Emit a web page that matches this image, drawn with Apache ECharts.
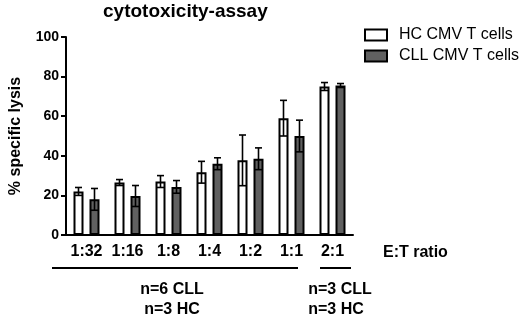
<!DOCTYPE html>
<html>
<head>
<meta charset="UTF-8">
<title>cytotoxicity-assay</title>
<script src="https://cdn.jsdelivr.net/npm/echarts@6/dist/echarts.min.js"></script>
<style>
  html, body { margin: 0; padding: 0; background: #fff; }
  #container { width: 520px; height: 316px; }
</style>
</head>
<body>
<div id="container"></div>
<script>
// data
var ratios = ['1:32', '1:16', '1:8', '1:4', '1:2', '1:1', '2:1'];
var hcMean = [22, 26.5, 27, 31.7, 37.7, 59, 75];
var hcErr = [2, 1.5, 3, 5.5, 12.8, 9, 2];
var cllMean = [18, 19.7, 24.3, 36, 38.5, 50, 75.5];
var cllErr = [5.5, 5.3, 3.2, 3, 5.5, 8, 1];
var yTicks = [0, 20, 40, 60, 80, 100];

var FONT = '"Liberation Sans", Arial, Helvetica, sans-serif';

function errData(mean, err) {
  var out = [];
  for (var i = 0; i < mean.length; i++) {
    out.push([i, mean[i] - err[i], mean[i] + err[i]]);
  }
  return out;
}

// draws a vertical error bar with caps, shifted off the category centre
function errRender(shift) {
  return function (params, api) {
    var lo = api.coord([api.value(0), api.value(1)]);
    var hi = api.coord([api.value(0), api.value(2)]);
    var x = lo[0] + shift;
    var cap = 3.5;
    var st = { stroke: '#000', lineWidth: 1.6 };
    return {
      type: 'group',
      children: [
        { type: 'line', shape: { x1: x, y1: lo[1], x2: x, y2: hi[1] }, style: st },
        { type: 'line', shape: { x1: x - cap, y1: hi[1], x2: x + cap, y2: hi[1] }, style: st },
        { type: 'line', shape: { x1: x - cap, y1: lo[1], x2: x + cap, y2: lo[1] }, style: st }
      ]
    };
  };
}

var myChart = echarts.init(document.getElementById('container'));

var option = {
  animation: false,
  backgroundColor: '#fff',
  textStyle: { fontFamily: FONT, color: '#000' },
  title: {
    text: 'cytotoxicity-assay',
    left: 103,
    top: 2,
    padding: 0,
    textStyle: { fontFamily: FONT, fontSize: 19, fontWeight: 'bold', color: '#000' }
  },
  legend: {
    data: ['HC CMV T cells', 'CLL CMV T cells'],
    orient: 'vertical',
    left: 359,
    top: 22,
    icon: 'rect',
    itemWidth: 22,
    itemHeight: 11,
    itemGap: 5,
    textStyle: { fontFamily: FONT, fontSize: 16, color: '#000', padding: [0, 0, 0, 7] }
  },
  grid: { left: 53, right: 167, top: 37, bottom: 81 },
  xAxis: {
    type: 'category',
    data: ratios,
    name: 'E:T ratio',
    nameLocation: 'end',
    nameGap: 30,
    nameTextStyle: {
      fontFamily: FONT, fontSize: 16, fontWeight: 'bold', color: '#000',
      verticalAlign: 'top', padding: [10, 0, 0, 0]
    },
    axisLine: { lineStyle: { color: '#000', width: 2 } },
    axisTick: { alignWithLabel: true, length: 5, lineStyle: { color: '#000', width: 2 } },
    axisLabel: { interval: 0, fontFamily: FONT, fontSize: 16, fontWeight: 'bold', color: '#000', margin: 9 }
  },
  yAxis: {
    type: 'value',
    min: 0,
    max: 100,
    interval: 20,
    name: '% specific lysis',
    nameLocation: 'middle',
    nameGap: 42,
    nameTextStyle: { fontFamily: FONT, fontSize: 16, fontWeight: 'bold', color: '#000' },
    splitLine: { show: false },
    axisLine: { show: true, lineStyle: { color: '#000', width: 2 } },
    axisTick: { show: true, length: 5, lineStyle: { color: '#000', width: 2 } },
    axisLabel: {
      fontFamily: FONT, fontSize: 14, fontWeight: 'bold', color: '#000', margin: 7,
      formatter: function (v) { return yTicks.indexOf(v) >= 0 ? String(v) : ''; }
    }
  },
  series: [
    {
      name: 'HC CMV T cells',
      type: 'bar',
      data: hcMean,
      barWidth: 10,
      barGap: '60%',
      itemStyle: { color: '#fff', borderColor: '#000', borderWidth: 2 }
    },
    {
      name: 'CLL CMV T cells',
      type: 'bar',
      data: cllMean,
      barWidth: 10,
      itemStyle: { color: '#606060', borderColor: '#000', borderWidth: 2 }
    },
    {
      name: 'hcErr',
      type: 'custom',
      renderItem: errRender(-8),
      data: errData(hcMean, hcErr),
      encode: { x: 0, y: [1, 2] },
      z: 5
    },
    {
      name: 'cllErr',
      type: 'custom',
      renderItem: errRender(8),
      data: errData(cllMean, cllErr),
      encode: { x: 0, y: [1, 2] },
      z: 5
    }
  ],
  graphic: [
    { type: 'line', shape: { x1: 52, y1: 268, x2: 298, y2: 268 }, style: { stroke: '#000', lineWidth: 2 } },
    { type: 'line', shape: { x1: 320, y1: 268, x2: 351, y2: 268 }, style: { stroke: '#000', lineWidth: 2 } },
    { type: 'text', x: 172, y: 290, style: { text: 'n=6 CLL', fill: '#000', font: 'bold 16px ' + FONT, textAlign: 'center', textVerticalAlign: 'middle' } },
    { type: 'text', x: 172, y: 310, style: { text: 'n=3 HC', fill: '#000', font: 'bold 16px ' + FONT, textAlign: 'center', textVerticalAlign: 'middle' } },
    { type: 'text', x: 340, y: 290, style: { text: 'n=3 CLL', fill: '#000', font: 'bold 16px ' + FONT, textAlign: 'center', textVerticalAlign: 'middle' } },
    { type: 'text', x: 336, y: 310, style: { text: 'n=3 HC', fill: '#000', font: 'bold 16px ' + FONT, textAlign: 'center', textVerticalAlign: 'middle' } }
  ]
};

myChart.setOption(option);
</script>
</body>
</html>
